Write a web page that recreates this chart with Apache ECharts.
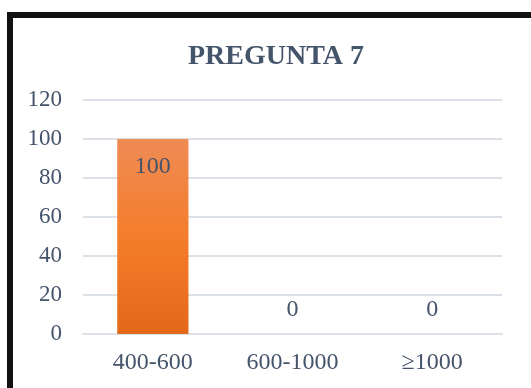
<!DOCTYPE html>
<html>
<head>
<meta charset="utf-8">
<script src="https://cdn.jsdelivr.net/npm/echarts@6/dist/echarts.min.js"></script>
<style>
html,body{margin:0;padding:0;background:#fff;}
#wrap{position:relative;width:531px;height:388px;overflow:hidden;}
#chart{position:absolute;left:0;top:0;width:531px;height:388px;}
#frame{position:absolute;left:7px;top:12px;width:600px;height:500px;border-left:6px solid #111;border-top:6px solid #111;pointer-events:none;box-sizing:border-box;}
</style>
</head>
<body>
<div id="wrap"><div id="chart"></div><div id="frame"></div></div>
<script>
const title = "PREGUNTA 7";
const categories = ["400-600", "600-1000", "≥1000"];
const values = [100, 0, 0];
const yTicks = { min: 0, max: 120, interval: 20 };

const textColor = "#44546A";
const font = "'Liberation Serif', 'Times New Roman', serif";

const chart = echarts.init(document.getElementById('chart'), null, { renderer: 'canvas' });
chart.setOption({
  animation: false,
  backgroundColor: '#fff',
  title: {
    text: title,
    left: 183,
    top: 38,
    textStyle: { fontFamily: font, fontSize: 28, fontWeight: 'bold', color: textColor }
  },
  grid: { left: 83, right: 29, top: 100, bottom: 54 },
  xAxis: {
    type: 'category',
    data: categories,
    axisLine: { show: true, lineStyle: { color: '#DCE1E8', width: 2 } },
    axisTick: { show: false },
    axisLabel: { fontFamily: font, fontSize: 24, color: textColor, margin: 17 }
  },
  yAxis: {
    type: 'value',
    min: yTicks.min, max: yTicks.max, interval: yTicks.interval,
    axisLine: { show: false },
    axisTick: { show: false },
    splitLine: { lineStyle: { color: '#DCE1E8', width: 2 } },
    axisLabel: { fontFamily: font, fontSize: 23, color: textColor, margin: 21 }
  },
  series: [{
    type: 'bar',
    data: values.map(v => v === 0 ? { value: v, label: { position: 'top', distance: 12 } } : v),
    barWidth: '51%',
    itemStyle: {
      color: new echarts.graphic.LinearGradient(0, 0, 0, 1, [
        { offset: 0, color: '#EF8B55' },
        { offset: 0.5, color: '#F47D2B' },
        { offset: 1, color: '#E3691A' }
      ])
    },
    label: {
      show: true,
      fontFamily: font, fontSize: 24, color: textColor,
      position: 'insideTop',
      distance: 16,
      formatter: p => String(p.value)
    }
  }]
});
</script>
</body>
</html>
